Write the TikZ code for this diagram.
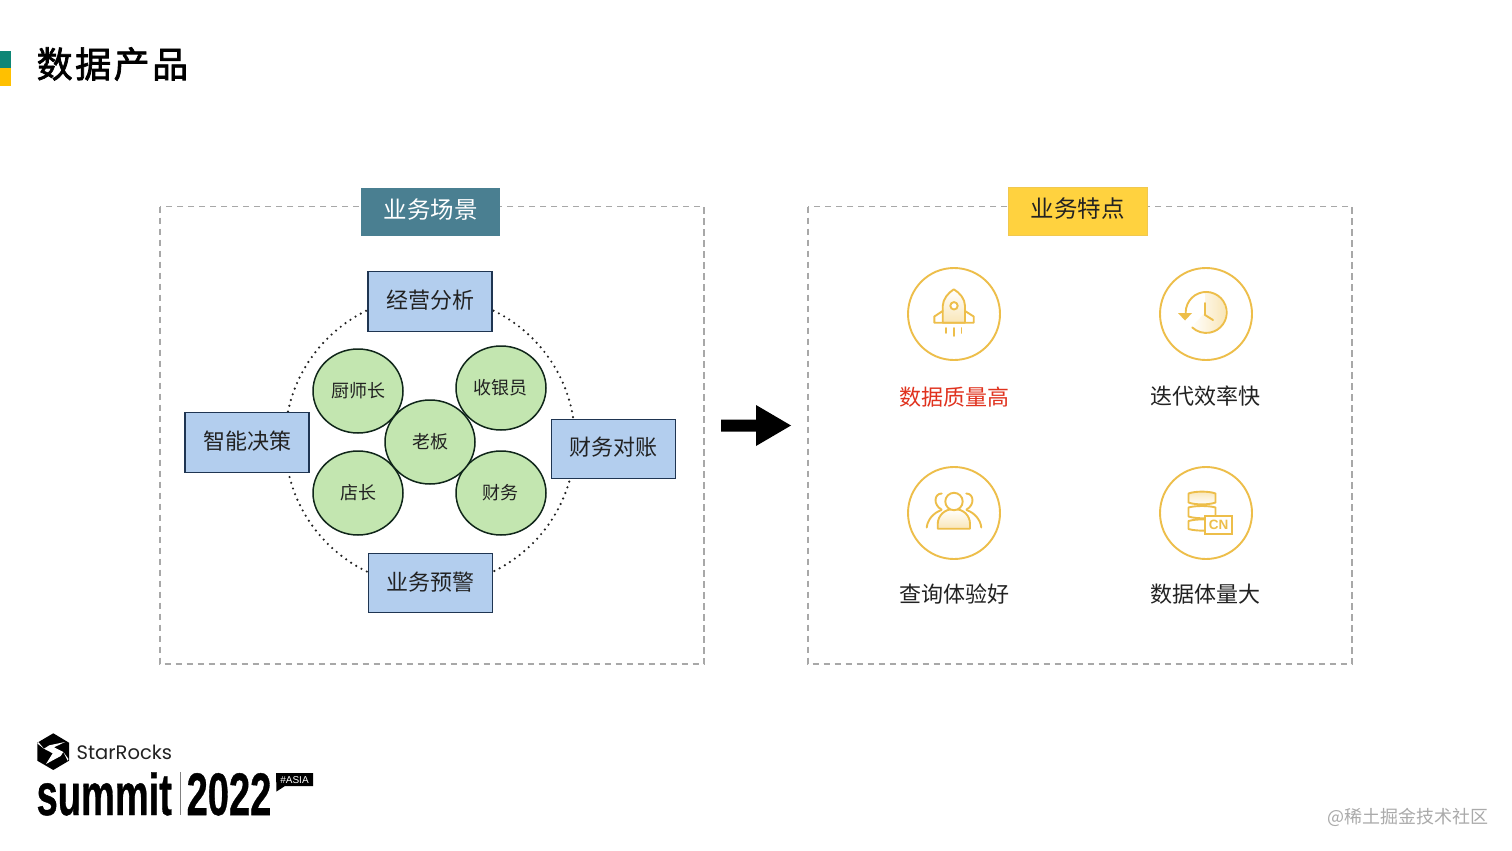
\documentclass[tikz,border=0pt]{standalone}
\usepackage{fontspec}
\setmainfont{Noto Sans CJK SC}
\newfontfamily\titlefont[FakeBold=2]{Noto Sans CJK SC}
\newfontfamily\latinfont{Poppins}
\newfontfamily\heavyfont{Liberation Sans}
\newfontfamily\fatfont[UprightFont=* Bold,FakeBold=0.8]{Liberation Sans}
\usetikzlibrary{shapes.geometric}
\definecolor{iconc}{HTML}{EDBE4A}
\definecolor{iconl}{HTML}{F9E6B8}
\definecolor{boxfill}{HTML}{B3CEEE}
\definecolor{boxline}{HTML}{1F3552}
\definecolor{roundfill}{HTML}{C3E6B0}
\definecolor{roundline}{HTML}{10261A}
\definecolor{framec}{HTML}{A8A8A8}
\definecolor{inkc}{HTML}{222222}
\newcommand\liftA[1]{\raisebox{2pt}[\height][\depth]{#1}}
\newcommand\liftB[1]{\raisebox{1pt}[\height][\depth]{#1}}
\tikzset{
  sized/.style={font=\fontsize{#1}{#1}\selectfont},
  area/.style={draw=framec,line width=1.2pt,dash pattern=on 6.5pt off 4.5pt},
  tag/.style={anchor=center,minimum width=139,minimum height=48,inner sep=0,sized=23.5},
  blue/.style={draw=boxline,fill=boxfill,line width=1.4pt,minimum width=124,minimum height=59.5,inner sep=0,text=inkc,sized=22},
  person/.style={ellipse,draw=roundline,fill=roundfill,line width=1.5pt,minimum width=90,minimum height=84,inner sep=0,text=inkc,sized=18},
  ring/.style={circle,draw=inkc,line width=2.4pt,line cap=round,dash pattern=on 0pt off 6pt,minimum size=290,inner sep=0},
  badge/.style={circle,draw=iconc,line width=1.9pt,minimum size=92,inner sep=0},
  iconline/.style={draw=iconc,line width=1.9pt,line cap=round,line join=round},
  iconfade/.style={top color=white,bottom color=iconl},
  caption/.style={text=inkc,sized=22,inner sep=0},
}
\begin{document}
\begin{tikzpicture}[x=1pt,y=-1pt]
\useasboundingbox (0,0) rectangle (1512,851);
% header
\fill[fill=white] (0,0) rectangle (1512,851);
\fill[fill={rgb,255:red,14;green,134;blue,118}] (0,51) rectangle (11,68.5);
\fill[fill={rgb,255:red,255;green,192;blue,0}] (0,68.5) rectangle (11,86);
\node[anchor=west,inner sep=0,font=\fontsize{36}{36}\selectfont\titlefont,text=black] (title) at (36.5,64) {数\kern2.5pt 据\kern2.5pt 产\kern2.5pt 品};
% frames
\draw[area] (160,206.5) rectangle (704,664);
\draw[area] (808,206.5) rectangle (1352,664);
\node[tag,fill={rgb,255:red,74;green,127;blue,145},text=white] (scene) at (430.5,211.5) {\liftA{业务场景}};
\node[tag,fill={rgb,255:red,255;green,210;blue,63},draw={rgb,255:red,240;green,200;blue,80},text=inkc] (trait) at (1077.5,211) {\liftA{业务特点}};
% ring
\node[ring] (orbit) at (430,441) {};
% people
\node[person] (chef) at (358,391) {厨师长};
\node[person] (cashier) at (501,388) {\hspace*{-1.5pt}收银员};
\node[person] (shop) at (358,493) {店长};
\node[person] (finance) at (501,493) {\hspace*{-1.5pt}财务};
\node[person] (boss) at (430,442) {老板};
% scenario boxes
\node[blue] (analysis) at (430,301.5) {\liftB{经营分析}};
\node[blue] (warning) at (430.5,583) {\liftB{业务预警}};
\node[blue] (decision) at (247,442.5) {\liftB{智能决策}};
\node[blue] (account) at (613.5,449) {\liftA{财务对账}};
% arrow
\fill[black] (721,419.5) -- (756,419.5) -- (756,405) -- (791,425.5) -- (756,446) -- (756,431.5) -- (721,431.5) -- cycle;
% badges
\node[badge] (b1) at (954,314) {};
\node[badge] (b2) at (1206,314) {};
\node[badge] (b3) at (954,513) {};
\node[badge] (b4) at (1206,513) {};
% rocket
\path[iconline,iconfade] (942.7,322.7) -- (942.7,306) .. controls (943,299) and (948,293) .. (953.8,289.3) .. controls (960,293) and (965,299) .. (965,306) -- (965,322.7) -- cycle;
\draw[iconline] (942.7,311) -- (934.3,316.5) -- (934.3,322.7) -- (973.7,322.7) -- (973.7,316.5) -- (965,311);
\draw[iconline,fill=white] (954,305.8) circle (3.7);
\draw[iconline] (946,328) -- (946,333);
\draw[iconline] (953.8,328) -- (953.8,336);
\draw[iconline] (961.5,328) -- (961.5,333);
% clock
\path[left color=white,right color=iconl] (1205,312.7) -- (1205,292) arc (270:493:20.5) -- cycle;
\draw[iconline] (1186,316) arc (170:493:20.5);
\draw[iconline] (1205,303) -- (1205,315) -- (1213,320);
\fill[iconc] (1178,313) -- (1192,313) -- (1185,320.5) -- cycle;
% users
\path[iconline,iconfade] (937.7,528.7) -- (937.7,524) .. controls (938,515) and (945,509) .. (954,509) .. controls (963,509) and (970,515) .. (970,524) -- (970,528.7) -- cycle;
\draw[iconline,fill=white] (954,501.5) circle (8.7);
\draw[iconline] (941.7,493.5) .. controls (934,493.5) and (933,505) .. (941.5,509.5);
\draw[iconline] (966.3,493.5) .. controls (974,493.5) and (975,505) .. (966.5,509.5);
\draw[iconline] (941.5,510) .. controls (933,513) and (927.5,520) .. (926.7,527.5);
\draw[iconline] (966.5,510) .. controls (975,513) and (980.5,520) .. (981.3,527.5);
% database
\path[iconline,top color=iconl,bottom color=white] (1188.5,493.5) .. controls (1195,491) and (1209,491) .. (1215.5,493.5) -- (1215.5,502.5) .. controls (1209,505) and (1195,505) .. (1188.5,502.5) -- cycle;
\draw[iconline] (1215.5,516) -- (1215.5,507.5) .. controls (1209,505.5) and (1195,505.5) .. (1188.5,507.5) -- (1188.5,516.5) .. controls (1193,518) and (1199,518.3) .. (1205,518.3);
\draw[iconline] (1205,530.7) .. controls (1199,530.7) and (1193,530.3) .. (1188.5,529) -- (1188.5,521) .. controls (1193,519.7) and (1199,519.3) .. (1205,519.3);
\node[draw=iconc,line width=1.9pt,fill=white,minimum width=26.5,minimum height=18,inner sep=0,text=iconc,font=\fontsize{13.5}{14}\selectfont\heavyfont\bfseries] (cn) at (1218.5,525) {CN};
% captions
\node[caption,text={rgb,255:red,224;green,50;blue,30}] (c1) at (954,397) {数据质量高};
\node[caption] (c2) at (1205,396) {迭代效率快};
\node[caption] (c3) at (954,594) {查询体验好};
\node[caption] (c4) at (1205,594) {数据体量大};
% logo
\fill[black] (53.3,733.3) -- (69,742.7) -- (69,760.7) -- (53.3,770) -- (37.3,760.7) -- (37.3,742.7) -- cycle;
\fill[white] (65,742) -- (49.3,745.3) -- (44,748.7) -- (52.7,753.3) -- (46,764) -- (60.7,756) -- (63.3,752) -- (54,747.3) -- cycle;
\fill[white] (37.3,743.5) -- (44,748.7) -- (38.5,742.2) -- cycle;
\fill[white] (68.5,759) -- (63.3,752) -- (67.5,760.5) -- cycle;
\node[anchor=base west,inner sep=0,font=\fontsize{19.5}{20}\selectfont\latinfont,text=inkc] (brand) at (76.5,759) {StarRocks};
\node[anchor=base west,inner sep=0,xscale=.645,font=\fontsize{59}{60}\selectfont\fatfont,text=black] (summit) at (36.5,815) {summit};
\fill[gray] (179.8,772) rectangle (180.6,815);
\node[anchor=base west,inner sep=0,xscale=.635,font=\fontsize{60}{60}\selectfont\fatfont,text=black] (year) at (186.5,815) {2022};
\fill[black] (276,773) -- (313,773) -- (313,786) -- (285,786) -- (276.5,791.5) -- cycle;
\node[inner sep=0,font=\fontsize{10}{10}\selectfont\heavyfont,text=white] (asia) at (294.5,779.7) {\#ASIA};
% watermark
\node[anchor=east,inner sep=0,text={rgb,255:red,170;green,170;blue,170},sized=18] (mark) at (1489,817) {@稀土掘金技术社区};
\end{tikzpicture}
\end{document}
